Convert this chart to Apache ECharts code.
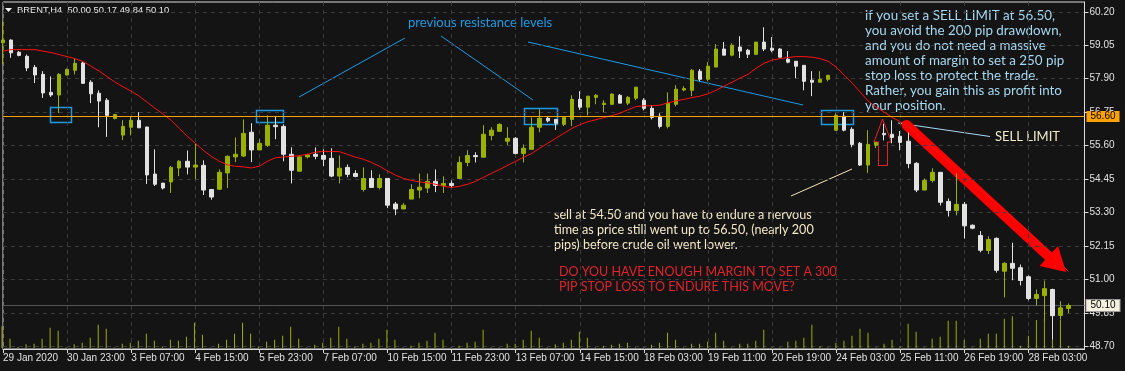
<!DOCTYPE html>
<html><head><meta charset="utf-8">
<script src="https://cdn.jsdelivr.net/npm/echarts@6/dist/echarts.min.js"></script>
<style>html,body{margin:0;padding:0;background:#141414;}#c{width:1125px;height:371px;}</style>
</head><body><div id="c"></div>
<script>
const timeLabels = ['29 Jan 2020','30 Jan 23:00','3 Feb 07:00','4 Feb 15:00','5 Feb 23:00','7 Feb 07:00','10 Feb 15:00','11 Feb 23:00','13 Feb 07:00','14 Feb 15:00','18 Feb 03:00','19 Feb 11:00','20 Feb 19:00','24 Feb 03:00','25 Feb 11:00','26 Feb 19:00','28 Feb 03:00'];
const priceTicks = [48.70, 49.85, 51.00, 52.15, 53.30, 54.45, 55.60, 56.75, 57.90, 59.05, 60.20];

const open = [59.14,59.23,58.81,58.67,58.29,58.05,57.43,57.34,58.03,58.19,
58.44,57.78,57.40,57.16,56.53,55.96,56.23,56.47,56.24,54.62,
54.31,54.35,54.83,55.06,54.86,54.92,54.09,54.10,54.66,55.21,
55.24,56.06,55.45,55.61,56.30,56.26,55.30,54.72,55.21,55.30,
55.26,55.16,54.55,54.85,54.64,54.09,54.47,54.16,54.47,53.59,
53.42,53.76,54.07,54.14,54.37,54.23,54.30,54.47,55.02,55.26,
55.20,55.95,56.09,55.75,55.85,55.33,55.47,56.23,56.54,56.50,
56.33,56.50,57.19,56.92,57.26,57.01,57.02,57.33,57.06,57.23,
57.16,56.88,56.61,56.26,57.02,57.51,57.50,58.16,57.88,58.30,
58.92,58.71,58.99,58.88,58.74,59.16,58.95,58.92,58.57,58.50,
58.36,57.85,57.78,57.88,56.13,56.61,56.16,55.68,54.93,55.61,
56.02,55.99,55.92,55.75,54.99,54.07,54.40,54.68,53.68,53.37,
53.58,52.86,52.51,51.99,52.41,51.28,51.55,51.40,51.09,50.34,
50.44,50.65,49.76,50.00];
const high = [59.88,59.25,58.85,58.73,58.37,58.16,57.98,58.09,58.25,58.60,
58.48,57.85,57.50,57.23,56.69,56.47,56.61,56.75,56.24,55.47,
54.31,54.90,55.10,55.43,55.68,55.09,54.09,54.78,55.26,55.88,
56.50,56.37,55.82,56.64,56.62,56.33,55.54,55.26,55.32,55.54,
55.47,55.51,55.26,54.95,54.75,54.85,54.75,54.61,54.47,53.66,
53.62,54.27,54.64,54.64,54.78,54.54,54.40,55.23,55.44,55.37,
56.30,56.23,56.37,56.23,55.89,55.64,56.57,56.85,56.61,56.50,
56.57,57.33,57.47,57.30,57.37,57.16,57.40,57.37,57.30,57.61,
57.23,56.99,56.71,57.43,57.68,57.64,58.23,58.23,58.47,59.09,
59.16,59.12,59.36,58.92,59.16,59.67,59.33,58.95,58.85,58.50,
58.36,58.16,58.16,58.02,56.71,56.75,56.23,55.72,56.13,55.71,
56.35,56.47,56.10,56.05,55.03,54.47,54.82,54.68,53.78,54.65,
53.66,52.89,52.66,52.48,52.44,51.59,52.26,51.51,51.13,50.65,
50.96,50.68,50.25,50.17];
const low = [58.40,58.62,58.67,58.16,57.75,57.24,57.27,56.72,58.01,58.05,
57.72,57.06,56.23,55.90,56.50,55.79,55.95,56.21,54.28,54.21,
54.09,53.97,54.55,54.61,54.44,53.90,53.74,54.07,54.14,55.03,
55.21,55.03,55.45,55.55,55.82,55.06,54.30,54.72,55.16,55.13,
54.89,54.51,54.30,54.51,54.51,54.02,54.16,54.09,53.45,53.21,
53.42,53.76,53.79,53.97,54.00,53.97,54.16,54.47,54.89,55.02,
55.20,55.78,56.09,55.61,55.30,55.02,55.47,56.06,56.40,56.14,
56.27,56.27,56.83,56.64,57.02,56.75,56.99,57.06,56.99,57.16,
56.81,56.50,56.19,56.19,56.95,57.47,57.30,57.81,57.81,58.30,
58.71,58.67,58.61,58.61,58.71,58.85,58.81,58.64,58.43,57.92,
57.50,57.30,57.78,57.81,56.10,56.09,55.54,54.90,54.66,55.51,
55.78,55.68,55.44,54.82,54.00,54.07,54.33,53.54,53.16,53.20,
52.40,52.72,51.93,51.87,51.23,50.38,50.97,50.79,50.28,50.10,
49.55,48.92,49.62,49.84];
const close = [59.23,58.79,58.70,58.27,58.03,57.41,57.34,58.05,58.22,58.43,
57.74,57.38,57.13,56.64,56.67,56.26,56.47,56.21,54.59,54.27,
54.14,54.85,55.06,54.86,54.93,54.07,53.83,54.68,55.23,55.30,
56.02,55.45,55.68,56.30,56.25,55.30,54.75,55.21,55.28,55.23,
55.13,54.55,54.82,54.61,54.54,54.47,54.16,54.47,53.55,53.42,
53.55,54.09,54.17,54.37,54.23,54.30,54.23,55.02,55.26,55.22,
55.99,56.13,56.33,55.85,55.33,55.51,56.23,56.54,56.45,56.37,
56.57,57.19,56.92,57.30,57.33,57.06,57.37,57.06,57.26,57.61,
56.88,56.57,56.26,57.06,57.54,57.56,58.19,57.88,58.33,58.92,
58.71,59.05,58.85,58.74,59.16,58.92,58.88,58.64,58.47,58.33,
57.81,57.78,57.88,58.02,56.64,56.13,55.64,54.93,55.64,55.71,
55.97,55.88,55.71,54.98,54.07,54.40,54.68,53.65,53.37,53.58,
52.84,52.76,52.00,52.37,51.31,51.55,51.38,50.96,50.34,50.48,
50.68,49.75,50.02,50.10];
const maValues = [58.85,58.90,58.90,58.90,58.90,58.85,58.80,58.73,58.66,58.59,
58.49,58.33,58.16,57.97,57.78,57.62,57.47,57.30,57.09,56.88,
56.68,56.47,56.19,55.92,55.68,55.44,55.23,55.06,54.94,54.89,
54.87,54.83,54.89,55.06,55.18,55.21,55.23,55.25,55.30,55.37,
55.40,55.40,55.39,55.30,55.20,55.13,55.02,54.89,54.73,54.58,
54.47,54.40,54.35,54.32,54.27,54.20,54.16,54.20,54.27,54.37,
54.51,54.65,54.78,54.92,55.06,55.20,55.33,55.51,55.68,55.85,
56.02,56.19,56.32,56.42,56.49,56.56,56.63,56.71,56.83,56.94,
56.97,56.97,56.99,57.07,57.14,57.19,57.25,57.30,57.38,57.50,
57.64,57.78,57.92,58.05,58.26,58.43,58.54,58.59,58.63,58.66,
58.66,58.64,58.59,58.50,58.30,58.02,57.75,57.44,57.13,56.92,
56.75,56.57,56.42,56.26,56.02,55.78,55.54,55.30,55.06,54.82,
54.58,54.34,54.09,53.85,53.61,53.37,53.13,52.89,52.65,52.37,
52.10,51.82,51.55,51.27];
const volume = [2170,930,100,370,430,930,2030,1730,50,370,
530,1030,2330,1930,50,430,530,730,1430,730,
150,830,730,1130,2530,1330,30,430,830,1430,
2530,1430,150,630,830,1230,2130,930,50,330,
530,1030,2130,930,150,430,530,930,1830,830,
50,230,530,730,1530,830,50,230,530,630,
1830,50,50,430,430,830,1730,1030,50,370,
530,830,1630,1030,50,230,330,430,530,50,
50,330,530,1530,830,50,430,430,630,1530,
730,50,430,430,730,1830,50,50,630,730,
1030,2330,150,50,530,730,1230,1930,1530,50,
430,830,150,2430,1630,50,930,1130,2730,2730,
800,50,930,1430,1430,2930,3170,230,1230,2800,
3000,800,2800,230];
const hLine = 56.60;
const bidLine = 50.10;
const header = 'BRENT,H4  50.00 50.17 49.84 50.10';

const SLOTS = 136;
const cats = Array.from({length: SLOTS}, (_, i) => String(i));
const candles = open.map((o, i) => [o, close[i], low[i], high[i]]);

const BULL = '#9bb100', BEAR = '#e2e2e2', AXIS = '#dcdcdc', GRIDC = '#3a3a3a';
const F = '"Liberation Sans", Arial, sans-serif';
const TF = 'Lato, "Open Sans", sans-serif';

function levelSeries(value, lineColor, boxFill, boxBorder, z) {
  return {
    type: 'line', xAxisIndex: 0, yAxisIndex: 0, z: z, silent: true,
    data: [[0, value], [SLOTS - 1, value]],
    showSymbol: false, symbol: 'none',
    lineStyle: {color: lineColor, width: 1, type: 'solid', opacity: 1},
    itemStyle: {color: lineColor},
    emphasis: {disabled: true},
    endLabel: {show: true, distance: 2, formatter: value.toFixed(2), color: '#000',
      backgroundColor: boxFill, borderColor: boxBorder || boxFill, borderWidth: boxBorder ? 1 : 0,
      padding: [1, 4, 0, 4], fontFamily: F, fontSize: 10}
  };
}

const chart = echarts.init(document.getElementById('c'), null, {renderer: 'canvas'});
chart.setOption({
  animation: false,
  backgroundColor: '#141414',
  grid: [
    {left: 2, right: 40.5, top: 2, bottom: 22, show: true, borderColor: AXIS, borderWidth: 1, backgroundColor: 'transparent'},
    {left: 2, right: 40.5, top: 308, bottom: 23, show: false}
  ],
  xAxis: [
    {type: 'category', gridIndex: 0, data: cats, boundaryGap: false,
     axisLine: {show: true, lineStyle: {color: AXIS}},
     axisTick: {show: true, interval: 7, length: 4, lineStyle: {color: AXIS}},
     axisLabel: {interval: 7, color: '#e0e0e0', fontFamily: F, fontSize: 10, align: 'left', margin: 4,
       formatter: (v, idx) => (idx % 8 === 0 && timeLabels[idx / 8]) ? timeLabels[idx / 8] : ''},
     splitLine: {show: true, interval: 7, lineStyle: {color: GRIDC, type: [4, 4]}}},
    {type: 'category', gridIndex: 1, data: cats, boundaryGap: false, show: false}
  ],
  yAxis: [
    {type: 'value', gridIndex: 0, position: 'right', min: 48.604, max: 60.538, scale: true,
     axisLine: {show: true, lineStyle: {color: AXIS}},
     axisTick: {show: true, length: 4, lineStyle: {color: AXIS}, customValues: priceTicks},
     axisLabel: {color: '#e0e0e0', fontFamily: F, fontSize: 10, margin: 5, customValues: priceTicks,
       formatter: v => Number(v).toFixed(2)},
     splitLine: {show: true, lineStyle: {color: GRIDC, type: [4, 4]}}},
    {type: 'value', gridIndex: 1, min: 0, max: 4000, show: false}
  ],
  series: [
    {type: 'bar', xAxisIndex: 1, yAxisIndex: 1, data: volume, barWidth: 1,
     itemStyle: {color: BULL}, silent: true},
    levelSeries(bidLine, '#555555', '#f3f0df', '#9a9a9a', 1),
    {type: 'candlestick', xAxisIndex: 0, yAxisIndex: 0, data: candles, barWidth: 4, clip: true,
     itemStyle: {color: BULL, color0: BEAR, borderColor: BULL, borderColor0: BEAR, borderWidth: 1}},
    levelSeries(hLine, '#ffa200', '#ffa200', null, 4),
    {type: 'line', xAxisIndex: 0, yAxisIndex: 0, data: maValues, showSymbol: false, symbol: 'none',
     lineStyle: {color: '#ff1010', width: 1}, silent: true, z: 3}
  ],
  graphic: [
    {type: 'polygon', shape: {points: [[5, 8], [12, 8], [8.5, 12]]}, style: {fill: '#f0f0f0'}},
    {type: 'text', x: 17, y: 10.5, style: {text: header, fill: '#e6e6e6', font: '9.4px ' + F, verticalAlign: 'middle'}},
    {type: 'text', x: 408, y: 23, style: {text: 'previous resistance levels', fill: '#1b9be6', font: '13px ' + TF, verticalAlign: 'middle'}},
    {type: 'polyline', shape: {points: [[299, 97], [405, 38]]}, style: {stroke: '#1b9be6', lineWidth: 1}},
    {type: 'polyline', shape: {points: [[441, 36], [533, 100]]}, style: {stroke: '#1b9be6', lineWidth: 1}},
    {type: 'polyline', shape: {points: [[528, 42], [803, 105]]}, style: {stroke: '#1b9be6', lineWidth: 1}},
    {type: 'rect', shape: {x: 50.5, y: 107.5, width: 21, height: 15}, style: {fill: 'none', stroke: '#1b9be6', lineWidth: 1.5}},
    {type: 'rect', shape: {x: 256.5, y: 110.5, width: 27, height: 12}, style: {fill: 'none', stroke: '#1b9be6', lineWidth: 1.5}},
    {type: 'rect', shape: {x: 524.5, y: 108.5, width: 33, height: 16}, style: {fill: 'none', stroke: '#1b9be6', lineWidth: 1.5}},
    {type: 'rect', shape: {x: 821.5, y: 110.5, width: 32, height: 14}, style: {fill: 'none', stroke: '#1b9be6', lineWidth: 1.5}},
    {type: 'text', x: 865, y: 8.5, style: {text: 'if you set a SELL LIMIT at 56.50,\nyou avoid the 200 pip drawdown,\nand you do not need a massive\namount of margin to set a 250 pip\nstop loss to protect the trade.\nRather, you gain this as profit into\nyour position.', fill: '#a6d8f2', font: '13.4px ' + TF, lineHeight: 15, verticalAlign: 'top'}},
    {type: 'polyline', shape: {points: [[898, 123], [990, 136.5]]}, style: {stroke: '#a6d8f2', lineWidth: 1}},
    {type: 'text', x: 995, y: 137, style: {text: 'SELL LIMIT', fill: '#f0ecc8', font: '13px ' + TF, verticalAlign: 'middle'}},
    {type: 'polyline', shape: {points: [[791, 196], [852, 169]]}, style: {stroke: '#f3e8b5', lineWidth: 1}},
    {type: 'text', x: 554, y: 207, style: {text: 'sell at 54.50 and you have to endure a nervous\ntime as price still went up to 56.50, (nearly 200\npips) before crude oil went lower.', fill: '#f4e8c8', font: '12.6px ' + TF, lineHeight: 15, verticalAlign: 'top'}},
    {type: 'text', x: 559, y: 264, style: {text: 'DO YOU HAVE ENOUGH MARGIN TO SET A 300\nPIP STOP LOSS TO ENDURE THIS MOVE?', fill: '#e3232c', font: '12.5px ' + TF, lineHeight: 15, verticalAlign: 'top'}},
    {type: 'polygon', shape: {points: [[882.5, 119], [874, 142], [878.5, 142], [878.5, 165.5], [887.5, 165.5], [887.5, 142], [891.5, 142]]}, style: {fill: 'none', stroke: '#e8202a', lineWidth: 1}},
    {type: 'polyline', shape: {points: [[906.5, 125], [1051, 258.5]]}, style: {stroke: '#ff0000', lineWidth: 10, lineCap: 'round'}},
    {type: 'polygon', shape: {points: [[1066, 272], [1039.5, 266], [1058, 246]]}, style: {fill: '#ff0000'}}
  ]
});
</script></body></html>
